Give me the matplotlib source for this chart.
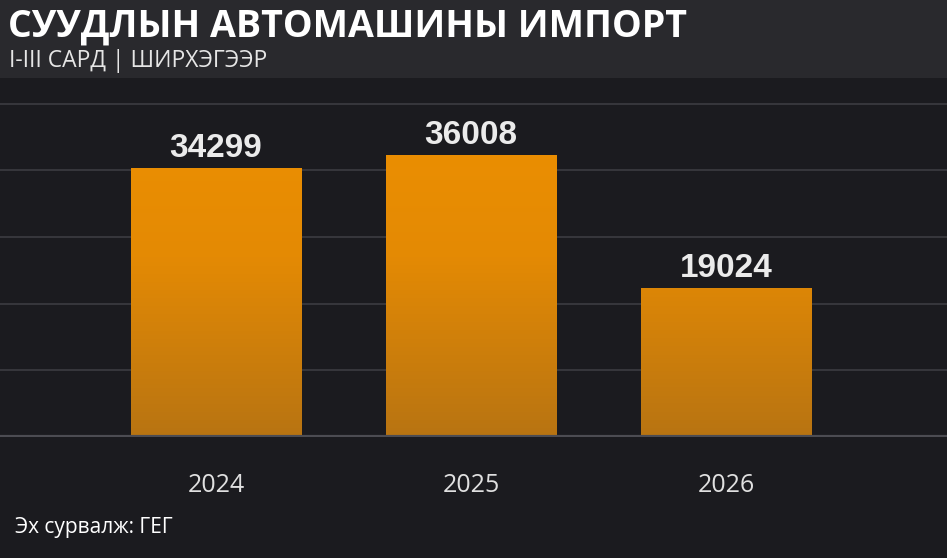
import numpy as np
import matplotlib.pyplot as plt
from matplotlib.patches import Rectangle
from matplotlib.colors import LinearSegmentedColormap

# passenger car imports, Jan-Mar
years = ['2024', '2025', '2026']
values = [34299, 36008, 19024]
grid_step = 8500

bg = '#1b1b1f'
band = '#29292d'

fig = plt.figure(figsize=(9.47, 5.58), dpi=100, facecolor=bg)

# title band
fig.patches.append(Rectangle((0, 1 - 78 / 558), 1, 78 / 558, transform=fig.transFigure,
                             facecolor=band, edgecolor='none', zorder=0))
fig.text(0.008, 1 - 27 / 558, 'СУУДЛЫН АВТОМАШИНЫ ИМПОРТ', color='white', fontsize=27,
         fontweight='bold', family='Open Sans', va='center', ha='left')
fig.text(0.010, 1 - 61 / 558, 'I-III САРД | ШИРХЭГЭЭР', color='#e6e6e6', fontsize=16.5,
         family='Open Sans', va='center', ha='left')

ax = fig.add_axes([0, 1 - 437 / 558, 1, (437 - 78) / 558])
ax.set_facecolor(bg)
x = np.arange(len(years))
bars = ax.bar(x, values, width=0.667, color='none', zorder=2)
ax.set_xlim(-0.847, 2.867)
ax.set_ylim(0, 45800)

# vertical orange gradient inside each bar
grad = np.linspace(0, 1, 256).reshape(-1, 1)
cmap = LinearSegmentedColormap.from_list('o', ['#b87412', '#e48a04', '#ef9100'])
for b in bars:
    im = ax.imshow(grad, extent=[b.get_x(), b.get_x() + b.get_width(), 0, 45800],
                   origin='lower', aspect='auto', cmap=cmap, zorder=2,
                   vmin=0, vmax=1)
    im.set_clip_path(b)

for xi, v in zip(x, values):
    ax.text(xi, v + 500, str(v), ha='center', va='bottom', color='#ebebeb',
            fontsize=24, fontweight='bold', family='Liberation Sans')

for yv in np.arange(grid_step, 45800, grid_step):
    ax.axhline(yv, color='#3a3a3f', lw=1.3, zorder=1)
ax.axhline(0, color='#4c4c52', lw=3, zorder=3)

for s in ax.spines.values():
    s.set_visible(False)
ax.set_yticks([])
ax.set_xticks(x)
ax.set_xticklabels(years, color='#e0e0e0', fontsize=18, family='Open Sans')
ax.tick_params(axis='x', length=0, pad=26)

fig.text(0.016, 0.055, 'Эх сурвалж: ГЕГ', color='white', fontsize=15,
         family='Open Sans', va='center', ha='left')

fig.savefig('out.png', dpi=100, facecolor=bg)
